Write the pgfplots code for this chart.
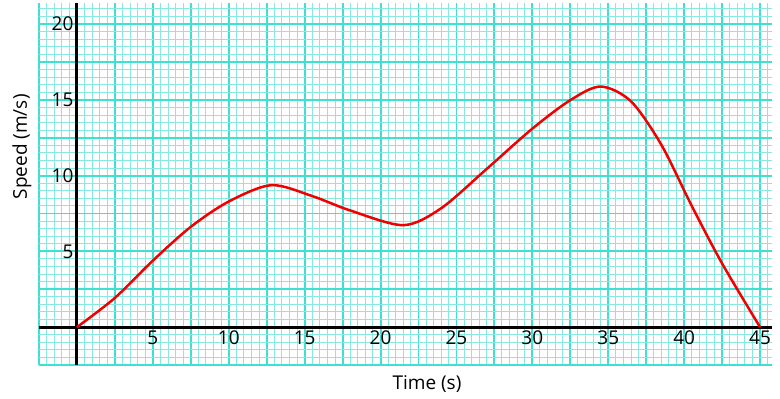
\documentclass[border=0pt]{standalone}
\usepackage{pgfplots}
\pgfplotsset{compat=1.18}
\usepackage{fontspec}
\setmainfont{Open Sans}
\definecolor{gmaj}{RGB}{64,224,208}
\definecolor{gmin}{RGB}{135,233,223}
\definecolor{curve}{RGB}{240,0,0}
\begin{document}
\begin{tikzpicture}[x=1pt,y=1pt]
\path[use as bounding box] (0,0) rectangle (780,399);
\begin{axis}[
  at={(39pt,34pt)}, anchor=south west,
  scale only axis, width=733.2pt, height=362.1pt,
  xmin=-2.5, xmax=45.8, ymin=-2.5, ymax=21.4,
  axis line style={draw=none},
  clip=false,
  xtick={-2.5,0,2.5,5,7.5,10,12.5,15,17.5,20,22.5,25,27.5,30,32.5,35,37.5,40,42.5,45,47.5},
  xticklabels={,,,5,,10,,15,,20,,25,,30,,35,,40,,45,},
  ytick={-2.5,0,2.5,5,7.5,10,12.5,15,17.5,20,22.5},
  yticklabels={,,,5,,10,,15,,20,},
  minor tick num=4,
  major tick length=0pt, minor tick length=0pt,
  grid=both,
  major grid style={gmaj, line width=1.9pt},
  minor grid style={gmin, line width=1pt},
  /pgf/number format/assume math mode=true,
  ticklabel style={font=\fontsize{19}{22}\selectfont},
  xticklabel style={yshift=37.9pt},
  yticklabel style={xshift=38pt},
]
\draw[black, line width=3pt] (axis cs:-2.5,0) -- (axis cs:45.8,0);
\draw[black, line width=3pt] (axis cs:0,-2.5) -- (axis cs:0,21.4);
\addplot[curve, line width=2.5pt, smooth, no marks] coordinates {
(0,0) (2.5,1.93) (5,4.39) (7.5,6.62) (10,8.29) (12.8,9.37) (15.5,8.65)
(18,7.7) (21.5,6.73) (24,7.85) (27,10.45) (30,13.1) (32.5,14.98)
(34.5,15.88) (36.5,14.9) (38.5,12.03) (40.5,8.0) (42.5,4.2) (45,0)
};
\node[font=\fontsize{19}{22}\selectfont, anchor=center] at (axis cs:23.06,-3.75) {Time (s)};
\node[font=\fontsize{19}{22}\selectfont, anchor=center, rotate=90] at (axis cs:-3.62,11.9) {Speed (m/s)};
\end{axis}
\end{tikzpicture}
\end{document}
